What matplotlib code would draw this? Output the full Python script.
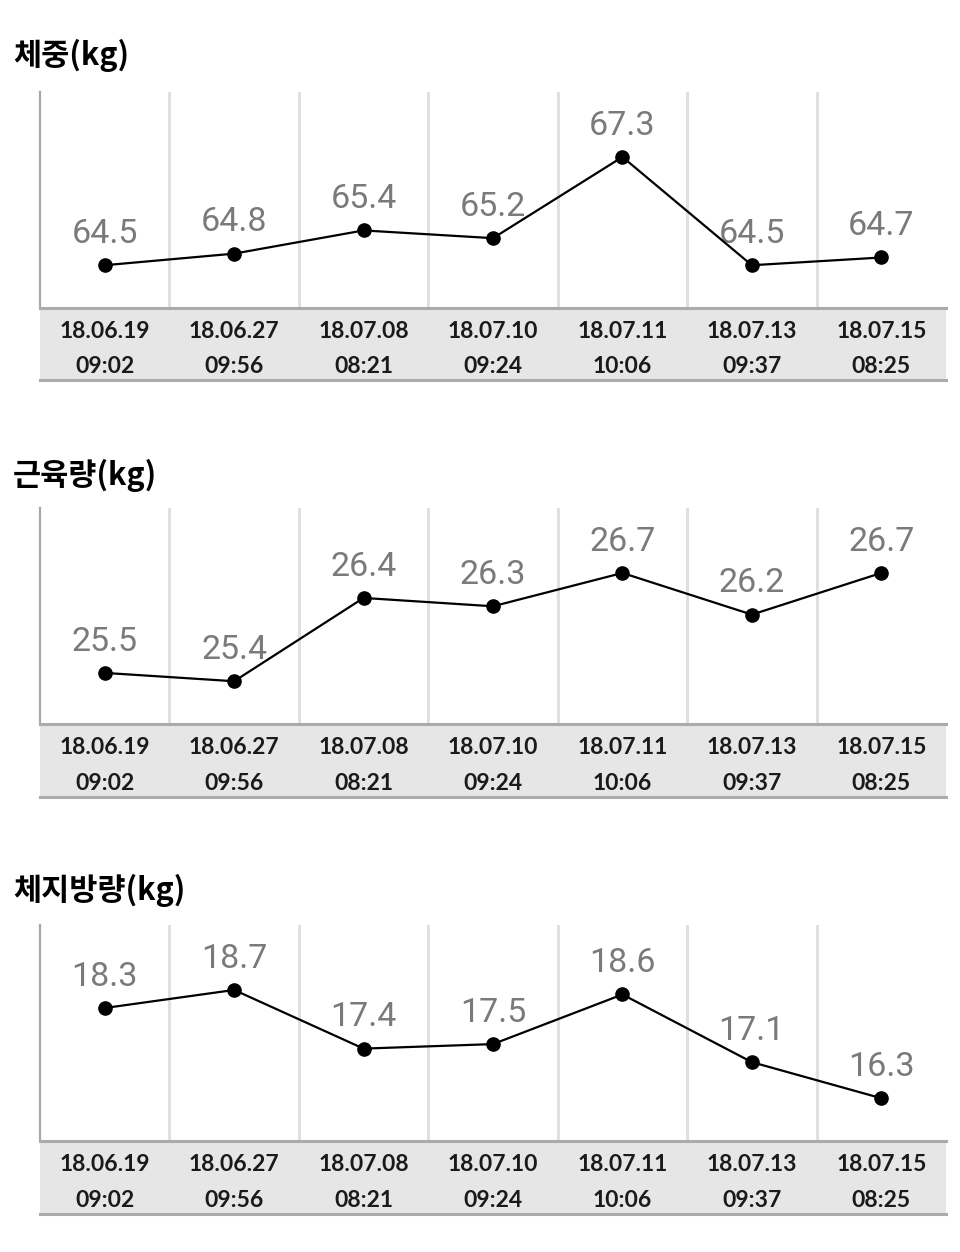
import matplotlib
matplotlib.use("Agg")
import matplotlib.pyplot as plt

plt.rcParams["font.family"] = ["Noto Sans CJK KR", "DejaVu Sans"]

titles = ["체중(kg)", "근육량(kg)", "체지방량(kg)"]
dates = ["18.06.19", "18.06.27", "18.07.08", "18.07.10", "18.07.11", "18.07.13", "18.07.15"]
times = ["09:02", "09:56", "08:21", "09:24", "10:06", "09:37", "08:25"]
weight = [64.5, 64.8, 65.4, 65.2, 67.3, 64.5, 64.7]
muscle = [25.5, 25.4, 26.4, 26.3, 26.7, 26.2, 26.7]
fat = [18.3, 18.7, 17.4, 17.5, 18.6, 17.1, 16.3]
series = [weight, muscle, fat]

W, H = 960, 1252
X0, X1 = 40, 946
plot_tops = [92, 508, 925]
band_tops = [308, 724, 1141]
band_bots = [380, 797, 1214]
title_y = [55, 475, 890]


def px_rect(x0, ytop, x1, ybot):
    return [x0 / W, 1 - ybot / H, (x1 - x0) / W, (ybot - ytop) / H]


fig = plt.figure(figsize=(W / 100, H / 100), dpi=100)
fig.patch.set_facecolor("white")

for k, values in enumerate(series):
    n = len(values)
    ax = fig.add_axes(px_rect(X0, plot_tops[k], X1, band_tops[k]))
    ax.set_xlim(-0.5, n - 0.5)
    r = max(values) - min(values)
    ax.set_ylim(min(values) - 0.395 * r, max(values) + 0.6 * r)
    for s in ["top", "right", "bottom"]:
        ax.spines[s].set_visible(False)
    ax.spines["left"].set_color("#a8a8a8")
    ax.spines["left"].set_linewidth(1.6)
    ax.set_xticks([])
    ax.set_yticks([])
    for i in range(1, n):
        ax.axvline(i - 0.5, color="#e0e0e0", lw=2.2, zorder=0)
    xs = list(range(n))
    ax.plot(xs, values, color="black", lw=1.6, marker="o", markersize=9.5, zorder=3)
    for x, v in zip(xs, values):
        ax.annotate(f"{v:.1f}", (x, v), xytext=(0, 11), textcoords="offset points",
                    ha="center", va="bottom", fontsize=24.5, color="#7a7a7a",
                    family=["Roboto", "DejaVu Sans"], zorder=2)

    band = fig.add_axes(px_rect(X0, band_tops[k], X1, band_bots[k]))
    band.set_xlim(-0.5, n - 0.5)
    band.set_ylim(0, 1)
    band.set_facecolor("#e6e6e6")
    for s in ["left", "right"]:
        band.spines[s].set_visible(False)
    for s in ["top", "bottom"]:
        band.spines[s].set_color("#ababab")
        band.spines[s].set_linewidth(2.2)
    band.set_xticks([])
    band.set_yticks([])
    for i, (d, t) in enumerate(zip(dates, times)):
        band.text(i, 0.68, d, ha="center", va="center", fontsize=16.5, color="#1a1a1a",
                  weight="bold", family=["Lato", "DejaVu Sans"])
        band.text(i, 0.19, t, ha="center", va="center", fontsize=16.5, color="#1a1a1a",
                  weight="bold", family=["Lato", "DejaVu Sans"])

    fig.text(13 / W, 1 - title_y[k] / H, titles[k], ha="left", va="center",
             fontsize=22, weight="bold", color="black")

fig.savefig("out.png", dpi=100, facecolor="white")
